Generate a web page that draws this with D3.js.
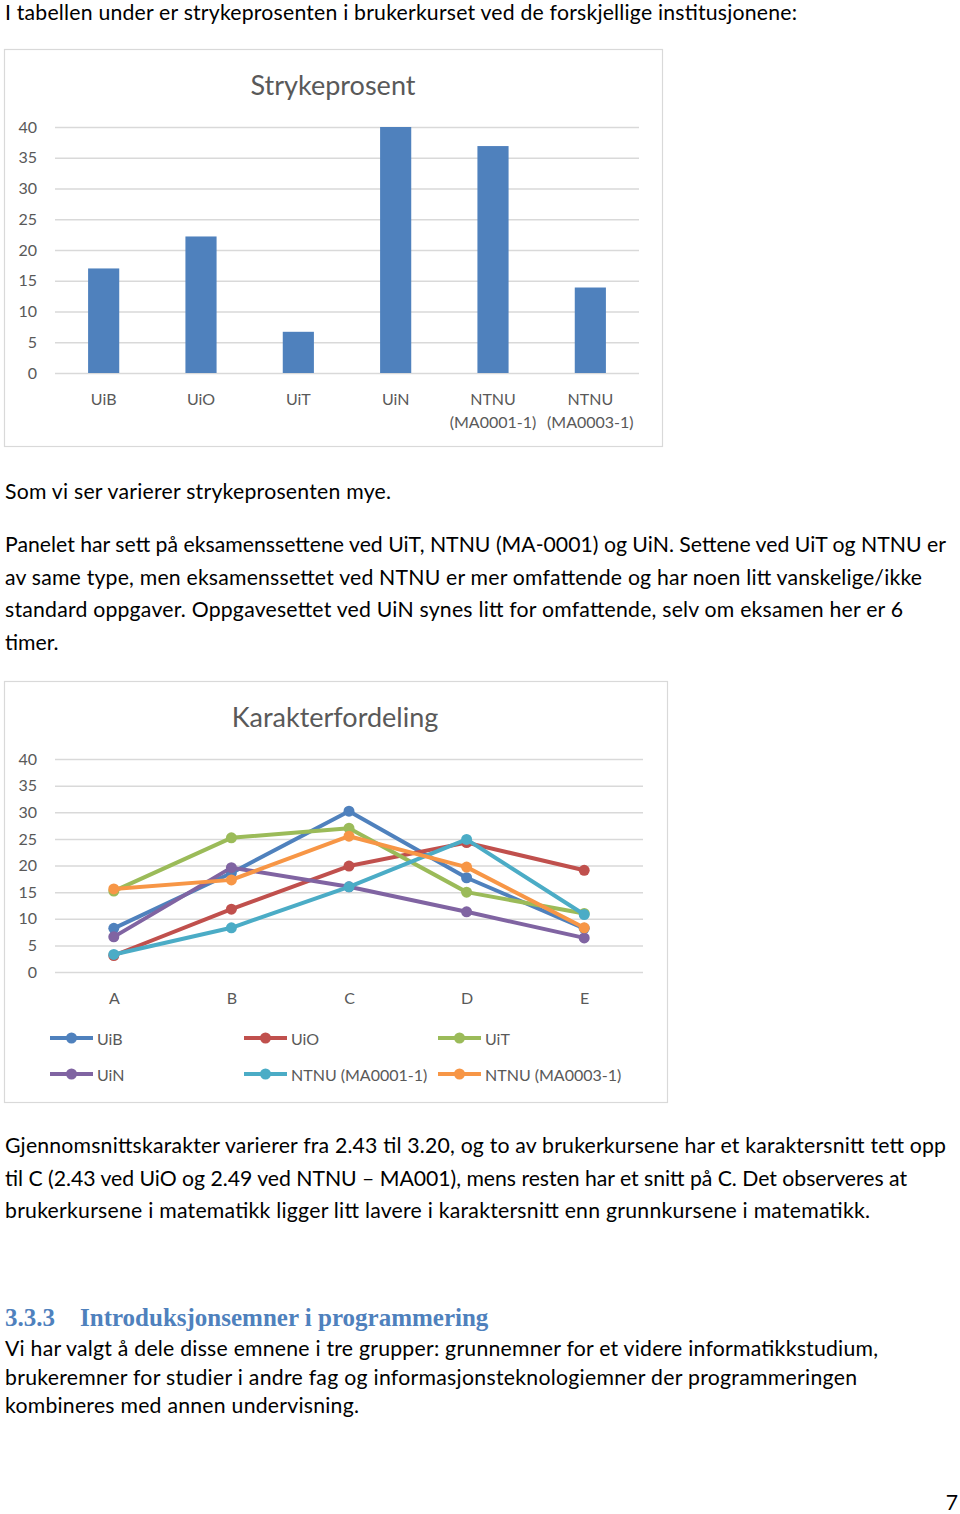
<!DOCTYPE html>
<html><head><meta charset="utf-8">
<script src="https://cdn.jsdelivr.net/npm/d3@7"></script>
<style>body{margin:0;background:#fff}svg{display:block}</style>
</head><body>
<script>
// ---- Data ----
const barCategories = ["UiB","UiO","UiT","UiN","NTNU\n(MA0001-1)","NTNU\n(MA0003-1)"];
const barValues = [17.0, 22.2, 6.7, 40.0, 36.9, 13.9];
const barTicks = [0,5,10,15,20,25,30,35,40];

const gradeCategories = ["A","B","C","D","E"];
const seriesNames = ["UiB","UiO","UiT","UiN","NTNU (MA0001-1)","NTNU (MA0003-1)"];
const uib   = [8.2, 18.6, 30.2, 17.7, 8.2];
const uio   = [3.1, 11.8, 19.9, 24.3, 19.1];
const uit   = [15.2, 25.2, 27.0, 15.0, 11.0];
const uin   = [6.6, 19.6, 16.0, 11.3, 6.4];
const ntnu1 = [3.3, 8.3, 16.0, 24.9, 10.8];
const ntnu3 = [15.6, 17.3, 25.5, 19.7, 8.3];
const lineTicks = [0,5,10,15,20,25,30,35,40];
const seriesColors = ["#4F81BD","#C0504D","#9BBB59","#8064A2","#4BACC6","#F79646"];

const textBlocks = [
  {y: 12, lh: 32.5, lines: ["I tabellen under er strykeprosenten i brukerkurset ved de forskjellige institusjonene:"], widths: [792]},
  {y: 491, lh: 32.5, lines: ["Som vi ser varierer strykeprosenten mye."], widths: [386]},
  {y: 544, lh: 32.5, lines: [
    "Panelet har sett på eksamenssettene ved UiT, NTNU (MA-0001) og UiN. Settene ved UiT og NTNU er",
    "av same type, men eksamenssettet ved NTNU er mer omfattende og har noen litt vanskelige/ikke",
    "standard oppgaver. Oppgavesettet ved UiN synes litt for omfattende, selv om eksamen her er 6",
    "timer."], widths: [941, 917, 898, 0]},
  {y: 1145, lh: 32.5, lines: [
    "Gjennomsnittskarakter varierer fra 2.43 til 3.20, og to av brukerkursene har et karaktersnitt tett opp",
    "til C (2.43 ved UiO og 2.49 ved NTNU – MA001), mens resten har et snitt på C. Det observeres at",
    "brukerkursene i matematikk ligger litt lavere i karaktersnitt enn grunnkursene i matematikk."], widths: [941, 902, 865]},
  {y: 1348, lh: 28.6, lines: [
    "Vi har valgt å dele disse emnene i tre grupper: grunnemner for et videre informatikkstudium,",
    "brukeremner for studier i andre fag og informasjonsteknologiemner der programmeringen",
    "kombineres med annen undervisning."], widths: [873, 852, 354]}
];

// ---- Setup ----
const W = 960, H = 1514;
const svg = d3.select("body").append("svg").attr("width", W).attr("height", H);
svg.append("rect").attr("width", W).attr("height", H).attr("fill", "#fff");
const FONT = "Lato, 'Open Sans', sans-serif";

// body text size, calibrated to the reference line widths
const probe = svg.append("text").attr("font-family", FONT).attr("font-size", 20)
  .text(textBlocks[2].lines[0]);
const bodySize = 20 * 941 / probe.node().getComputedTextLength();
probe.remove();

textBlocks.forEach(b => {
  b.lines.forEach((l, i) => {
    const t = svg.append("text").attr("x", 5).attr("y", b.y + i * b.lh)
      .attr("dominant-baseline", "central")
      .attr("font-family", FONT).attr("font-size", bodySize).attr("fill", "#000")
      .text(l);
    if (b.widths[i]) t.attr("textLength", b.widths[i]).attr("lengthAdjust", "spacing");
  });
});

// heading
const hd = svg.append("g").attr("font-family", "'Liberation Serif', 'DejaVu Serif', serif")
  .attr("font-weight", "bold").attr("fill", "#4F81BD").attr("font-size", 25);
hd.append("text").attr("x", 5).attr("y", 1317).attr("dominant-baseline", "central").text("3.3.3");
hd.append("text").attr("x", 80).attr("y", 1317).attr("dominant-baseline", "central").text("Introduksjonsemner i programmering");
svg.append("text").attr("x", 952).attr("y", 1502).attr("text-anchor", "middle").attr("dominant-baseline", "central")
  .attr("font-family", FONT).attr("font-size", bodySize).text("7");

const GRAY = "#595959", GRID = "#D9D9D9";

// ---- Bar chart ----
{
  const g = svg.append("g");
  g.append("rect").attr("x", 4.5).attr("y", 49.5).attr("width", 658).attr("height", 397)
    .attr("fill", "#fff").attr("stroke", GRID).attr("stroke-width", 1.2);
  g.append("text").attr("x", 333).attr("y", 84).attr("text-anchor", "middle").attr("dominant-baseline", "central")
    .attr("font-family", FONT).attr("font-size", 27).attr("fill", GRAY).text("Strykeprosent");
  const x = d3.scaleBand().domain(barCategories).range([55, 639]).paddingInner(0.68).paddingOuter(0.34);
  const y = d3.scaleLinear().domain([0, 40]).range([373, 127]);
  const yAxis = g.append("g").attr("transform", "translate(55,0)")
    .call(d3.axisLeft(y).tickValues(barTicks).tickSize(-584).tickFormat(d3.format("d")));
  yAxis.select(".domain").remove();
  yAxis.selectAll(".tick line").attr("stroke", GRID).attr("stroke-width", 1.5);
  yAxis.selectAll(".tick text").attr("x", -18).attr("font-family", FONT).attr("font-size", 16).attr("fill", GRAY);
  g.selectAll(".bar").data(barValues).join("rect").attr("class", "bar")
    .attr("x", (d, i) => x(barCategories[i])).attr("width", x.bandwidth())
    .attr("y", d => y(d)).attr("height", d => y(0) - y(d)).attr("fill", "#4F81BD");
  const xl = g.append("g").attr("font-family", FONT).attr("font-size", 16).attr("fill", GRAY);
  barCategories.forEach(c => {
    const t = xl.append("text").attr("text-anchor", "middle");
    c.split("\n").forEach((p, j) => {
      t.append("tspan").attr("x", x(c) + x.bandwidth() / 2).attr("y", 398 + j * 23)
        .attr("dominant-baseline", "central").text(p);
    });
  });
}

// ---- Line chart ----
{
  const allSeries = [uib, uio, uit, uin, ntnu1, ntnu3];
  const g = svg.append("g");
  g.append("rect").attr("x", 4.5).attr("y", 681.5).attr("width", 663).attr("height", 421)
    .attr("fill", "#fff").attr("stroke", GRID).attr("stroke-width", 1.2);
  g.append("text").attr("x", 335).attr("y", 716).attr("text-anchor", "middle").attr("dominant-baseline", "central")
    .attr("font-family", FONT).attr("font-size", 27).attr("fill", GRAY).text("Karakterfordeling");
  const x = d3.scalePoint().domain(gradeCategories).range([55, 643]).padding(0.5);
  const y = d3.scaleLinear().domain([0, 40]).range([972, 759]);
  const yAxis = g.append("g").attr("transform", "translate(55,0)")
    .call(d3.axisLeft(y).tickValues(lineTicks).tickSize(-588).tickFormat(d3.format("d")));
  yAxis.select(".domain").remove();
  yAxis.selectAll(".tick line").attr("stroke", GRID).attr("stroke-width", 1.5);
  yAxis.selectAll(".tick text").attr("x", -18).attr("font-family", FONT).attr("font-size", 16).attr("fill", GRAY);
  const xAxis = g.append("g").attr("transform", "translate(0,972)")
    .call(d3.axisBottom(x).tickSize(0));
  xAxis.select(".domain").remove();
  xAxis.selectAll(".tick text").attr("y", 25).attr("dy", "0").attr("dominant-baseline", "central")
    .attr("font-family", FONT).attr("font-size", 16).attr("fill", GRAY);
  const line = d3.line().x((d, i) => x(gradeCategories[i])).y(d => y(d));
  allSeries.forEach((s, k) => {
    g.append("path").datum(s).attr("d", line).attr("fill", "none")
      .attr("stroke", seriesColors[k]).attr("stroke-width", 4).attr("stroke-linejoin", "round");
    g.selectAll(".pt" + k).data(s).join("circle").attr("class", "pt" + k)
      .attr("cx", (d, i) => x(gradeCategories[i])).attr("cy", d => y(d)).attr("r", 5.5)
      .attr("fill", seriesColors[k]);
  });
  // legend
  const lg = g.append("g").attr("font-family", FONT).attr("font-size", 16).attr("fill", GRAY);
  seriesNames.forEach((n, k) => {
    const lx = 50 + (k % 3) * 194, ly = 1038 + Math.floor(k / 3) * 36;
    lg.append("line").attr("x1", lx).attr("x2", lx + 43).attr("y1", ly).attr("y2", ly)
      .attr("stroke", seriesColors[k]).attr("stroke-width", 4);
    lg.append("circle").attr("cx", lx + 21.5).attr("cy", ly).attr("r", 5.5).attr("fill", seriesColors[k]);
    lg.append("text").attr("x", lx + 47).attr("y", ly).attr("dominant-baseline", "central").text(n);
  });
}
</script>
</body></html>
